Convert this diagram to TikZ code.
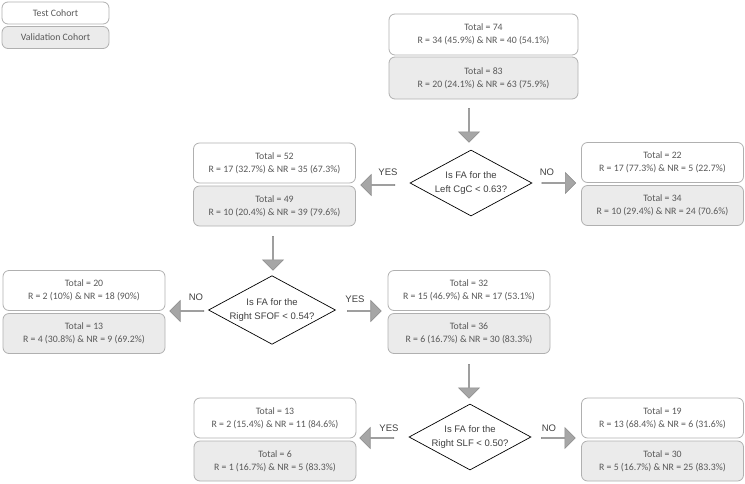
\documentclass[tikz,border=0pt]{standalone}
\usepackage{fontspec}
\setmainfont{Carlito}
\newfontfamily\arialfont{Liberation Sans}
\usetikzlibrary{shapes.geometric,shapes.arrows}
\definecolor{boxline}{HTML}{B0B0B0}
\definecolor{boxfill}{HTML}{EBEBEB}
\definecolor{boxtext}{HTML}{595959}
\definecolor{arrfill}{HTML}{A6A6A6}
\definecolor{arrline}{HTML}{8C8C8C}
\definecolor{lbltext}{HTML}{404040}
\tikzset{
  testbox/.style={draw=boxline, fill=white, rounded corners=6pt, line width=0.8pt,
    text=boxtext, font=\fontsize{9.8}{13}\selectfont, align=center, inner sep=0pt,
    minimum width=162pt, minimum height=40pt},
  valbox/.style={testbox, fill=boxfill},
  legbox/.style={testbox, minimum width=107pt, minimum height=22pt},
  question/.style={diamond, draw=black, fill=white, line width=0.7pt, aspect=1.85,
    minimum width=122pt, minimum height=66pt, inner sep=0pt, align=center,
    text=lbltext, font=\arialfont\fontsize{9.5}{14}\selectfont},
  blockarrow/.style={single arrow, draw=arrline, fill=arrfill, line width=0.6pt,
    minimum height=34pt, minimum width=21pt, single arrow head extend=5pt, inner sep=0pt},
  answer/.style={text=lbltext, font=\arialfont\fontsize{9.5}{11}\selectfont, inner sep=0pt}
}
\begin{document}
\begin{tikzpicture}[x=1pt,y=-1pt]
\useasboundingbox (0,0) rectangle (745,483);
% legend
\node[legbox] (legtest) at (55.5,13) {Test Cohort};
\node[legbox, fill=boxfill] (legval) at (55.5,37.5) {Validation Cohort};
% top
\node[testbox, minimum width=189pt, minimum height=41pt] (t0) at (483.5,34.5) {Total = 74\\R = 34 (45.9\%) \& NR = 40 (54.1\%)};
\node[valbox, minimum width=189pt, minimum height=42pt] (v0) at (483.5,78) {Total = 83\\R = 20 (24.1\%) \& NR = 63 (75.9\%)};
% decision 1
\node[question] (d1) at (471,183) {Is FA for the\\Left CgC < 0.63?};
\node[testbox] (t1l) at (274.5,163) {Total = 52\\R = 17 (32.7\%) \& NR = 35 (67.3\%)};
\node[valbox] (v1l) at (274.5,206) {Total = 49\\R = 10 (20.4\%) \& NR = 39 (79.6\%)};
\node[testbox] (t1r) at (662.5,162.5) {Total = 22\\R = 17 (77.3\%) \& NR = 5 (22.7\%)};
\node[valbox] (v1r) at (662.5,205.5) {Total = 34\\R = 10 (29.4\%) \& NR = 24 (70.6\%)};
% decision 2
\node[question] (d2) at (272,310) {Is FA for the\\Right SFOF < 0.54?};
\node[testbox] (t2l) at (84,290.5) {Total = 20\\R = 2 (10\%) \& NR = 18 (90\%)};
\node[valbox] (v2l) at (84,333.5) {Total = 13\\R = 4 (30.8\%) \& NR = 9 (69.2\%)};
\node[testbox] (t2r) at (469,290.5) {Total = 32\\R = 15 (46.9\%) \& NR = 17 (53.1\%)};
\node[valbox] (v2r) at (469,333.5) {Total = 36\\R = 6 (16.7\%) \& NR = 30 (83.3\%)};
% decision 3
\node[question] (d3) at (470,437) {Is FA for the\\Right SLF < 0.50?};
\node[testbox] (t3l) at (275,418) {Total = 13\\R = 2 (15.4\%) \& NR = 11 (84.6\%)};
\node[valbox] (v3l) at (275,461) {Total = 6\\R = 1 (16.7\%) \& NR = 5 (83.3\%)};
\node[testbox] (t3r) at (662.5,418) {Total = 19\\R = 13 (68.4\%) \& NR = 6 (31.6\%)};
\node[valbox] (v3r) at (662.5,461) {Total = 30\\R = 5 (16.7\%) \& NR = 25 (83.3\%)};
% block arrows
\node[blockarrow, rotate=-90] (a0) at (469,125) {};
\node[blockarrow, rotate=180] (a1) at (378,185) {};
\node[blockarrow] (a2) at (558.5,183) {};
\node[blockarrow, rotate=-90] (a3) at (273,253) {};
\node[blockarrow, rotate=180] (a4) at (187,311) {};
\node[blockarrow] (a5) at (364,311) {};
\node[blockarrow, rotate=-90] (a6) at (469,381) {};
\node[blockarrow, rotate=180] (a7) at (377,438) {};
\node[blockarrow] (a8) at (558,438) {};
% answers
\node[answer] (y1) at (388,172) {YES};
\node[answer] (n1) at (547,172) {NO};
\node[answer] (n2) at (196,297) {NO};
\node[answer] (y2) at (355,299) {YES};
\node[answer] (y3) at (389,428) {YES};
\node[answer] (n3) at (549,428) {NO};
\end{tikzpicture}
\end{document}
